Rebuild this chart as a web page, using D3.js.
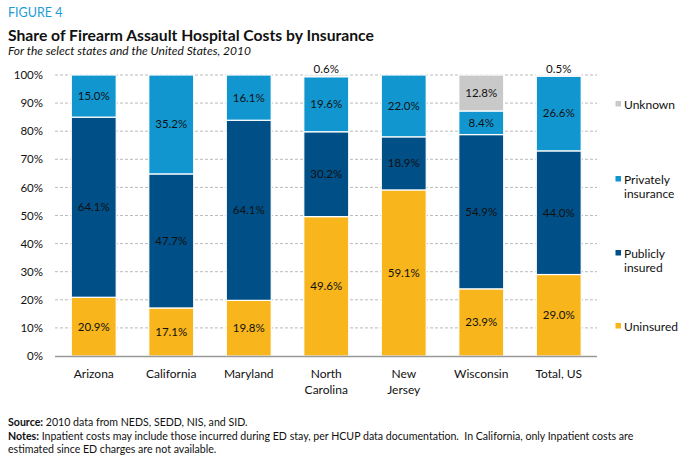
<!DOCTYPE html>
<html><head><meta charset="utf-8">
<script src="https://cdn.jsdelivr.net/npm/d3@7"></script>
<style>
html,body{margin:0;padding:0;background:#fff;}
text{font-family:"Lato","Open Sans",sans-serif;}
</style></head>
<body>
<svg id="chart" width="688" height="460"></svg>
<script>
const categories = [["Arizona"],["California"],["Maryland"],["North","Carolina"],["New","Jersey"],["Wisconsin"],["Total, US"]];
const seriesNames = ["Uninsured","Publicly insured","Privately insurance","Unknown"];
const uninsured = [20.9, 17.1, 19.8, 49.6, 59.1, 23.9, 29.0];
const publicly  = [64.1, 47.7, 64.1, 30.2, 18.9, 54.9, 44.0];
const privately = [15.0, 35.2, 16.1, 19.6, 22.0, 8.4, 26.6];
const unknown   = [0, 0, 0, 0.6, 0, 12.8, 0.5];
const yTicks = [0,10,20,30,40,50,60,70,80,90,100];
const colors = ["#F8B51C","#004F86","#1296D0","#C9C9C9"];

const svg = d3.select("#chart");
const x = d3.scaleBand().domain(categories.map((c,i)=>i)).range([55,597.5]).paddingInner(0.42).paddingOuter(0.21);
const y = d3.scaleLinear().domain([0,100]).range([356,75]);

// header
svg.append("text").attr("x",8).attr("y",17).attr("fill","#1E9BD7").attr("font-size",12.5).text("FIGURE 4");
svg.append("text").attr("x",8).attr("y",41).attr("fill","#111").attr("font-size",15.7).attr("font-weight","bold").text("Share of Firearm Assault Hospital Costs by Insurance");
svg.append("text").attr("x",8).attr("y",55).attr("fill","#111").attr("font-size",12).attr("font-style","italic").text("For the select states and the United States, 2010");

// grid
svg.append("g").selectAll("line").data(yTicks.filter(t=>t>0)).join("line")
  .attr("x1",55).attr("x2",597).attr("y1",d=>y(d)).attr("y2",d=>y(d))
  .attr("stroke","#bbb").attr("stroke-width",1).attr("stroke-dasharray","3,2");

// y axis labels
const yAxis = d3.axisLeft(y).tickValues(yTicks).tickFormat(d=>d+"%").tickSize(0).tickPadding(12);
const ya = svg.append("g").attr("transform","translate(55,0)").call(yAxis);
ya.select(".domain").remove();
ya.selectAll("text").attr("font-size",11.5).attr("fill","#111").style("font-family","Lato, sans-serif");

// stacks
const table = categories.map((c,i)=>({i, u:uninsured[i], p:publicly[i], r:privately[i], k:unknown[i]}));
const stack = d3.stack().keys(["u","p","r","k"])(table);
const g = svg.append("g");
stack.forEach((layer,li)=>{
  g.selectAll(null).data(layer).join("rect")
    .attr("x",d=>x(d.data.i)).attr("width",x.bandwidth())
    .attr("y",d=>y(d[1])).attr("height",d=>Math.max(0,y(d[0])-y(d[1])))
    .attr("fill",colors[li]).attr("stroke","#fff").attr("stroke-width",d=>(d[1]-d[0])>0?1.2:0);
});
// baseline
svg.append("line").attr("x1",55).attr("x2",597).attr("y1",356.5).attr("y2",356.5).attr("stroke","#999").attr("stroke-width",1.5);

// value labels
stack.forEach((layer,li)=>{
  layer.forEach(d=>{
    const v = d[1]-d[0];
    if(v<=0) return;
    const cx = x(d.data.i)+x.bandwidth()/2;
    let cy = v<2 ? 73 : (y(d[0])+y(d[1]))/2+4;
    svg.append("text").attr("x",cx).attr("y",cy).attr("text-anchor","middle")
      .attr("font-size",11.5).attr("fill","#111").text(v.toFixed(1)+"%");
  });
});

// x labels
categories.forEach((c,i)=>{
  const t = svg.append("text").attr("text-anchor","middle").attr("font-size",12).attr("fill","#111");
  c.forEach((line,j)=>{
    t.append("tspan").attr("x",x(i)+x.bandwidth()/2).attr("y",378+j*15.5).text(line);
  });
});

// legend
const legend = [
  {name:["Unknown"], c:colors[3], y:104},
  {name:["Privately","insurance"], c:colors[2], y:179},
  {name:["Publicly","insured"], c:colors[1], y:253},
  {name:["Uninsured"], c:colors[0], y:326}
];
legend.forEach(l=>{
  svg.append("rect").attr("x",615.5).attr("y",l.y-3).attr("width",5.5).attr("height",5.5).attr("fill",l.c);
  const t = svg.append("text").attr("font-size",12).attr("fill","#111");
  l.name.forEach((s,j)=>t.append("tspan").attr("x",624).attr("y",l.y+4.5+j*14.5).text(s));
});

// footer
const f1 = svg.append("text").attr("x",8).attr("y",426).attr("font-size",10.6).attr("fill","#111");
f1.append("tspan").attr("font-weight","bold").text("Source:");
f1.append("tspan").text(" 2010 data from NEDS, SEDD, NIS, and SID.");
const f2 = svg.append("text").attr("x",8).attr("y",439.5).attr("font-size",10.6).attr("fill","#111");
f2.append("tspan").attr("font-weight","bold").text("Notes:");
f2.append("tspan").attr("xml:space","preserve").style("white-space","pre").text(" Inpatient costs may include those incurred during ED stay, per HCUP data documentation.  In California, only Inpatient costs are");
svg.append("text").attr("x",8).attr("y",453).attr("font-size",10.6).attr("fill","#111").text("estimated since ED charges are not available.");
</script>
</body></html>
